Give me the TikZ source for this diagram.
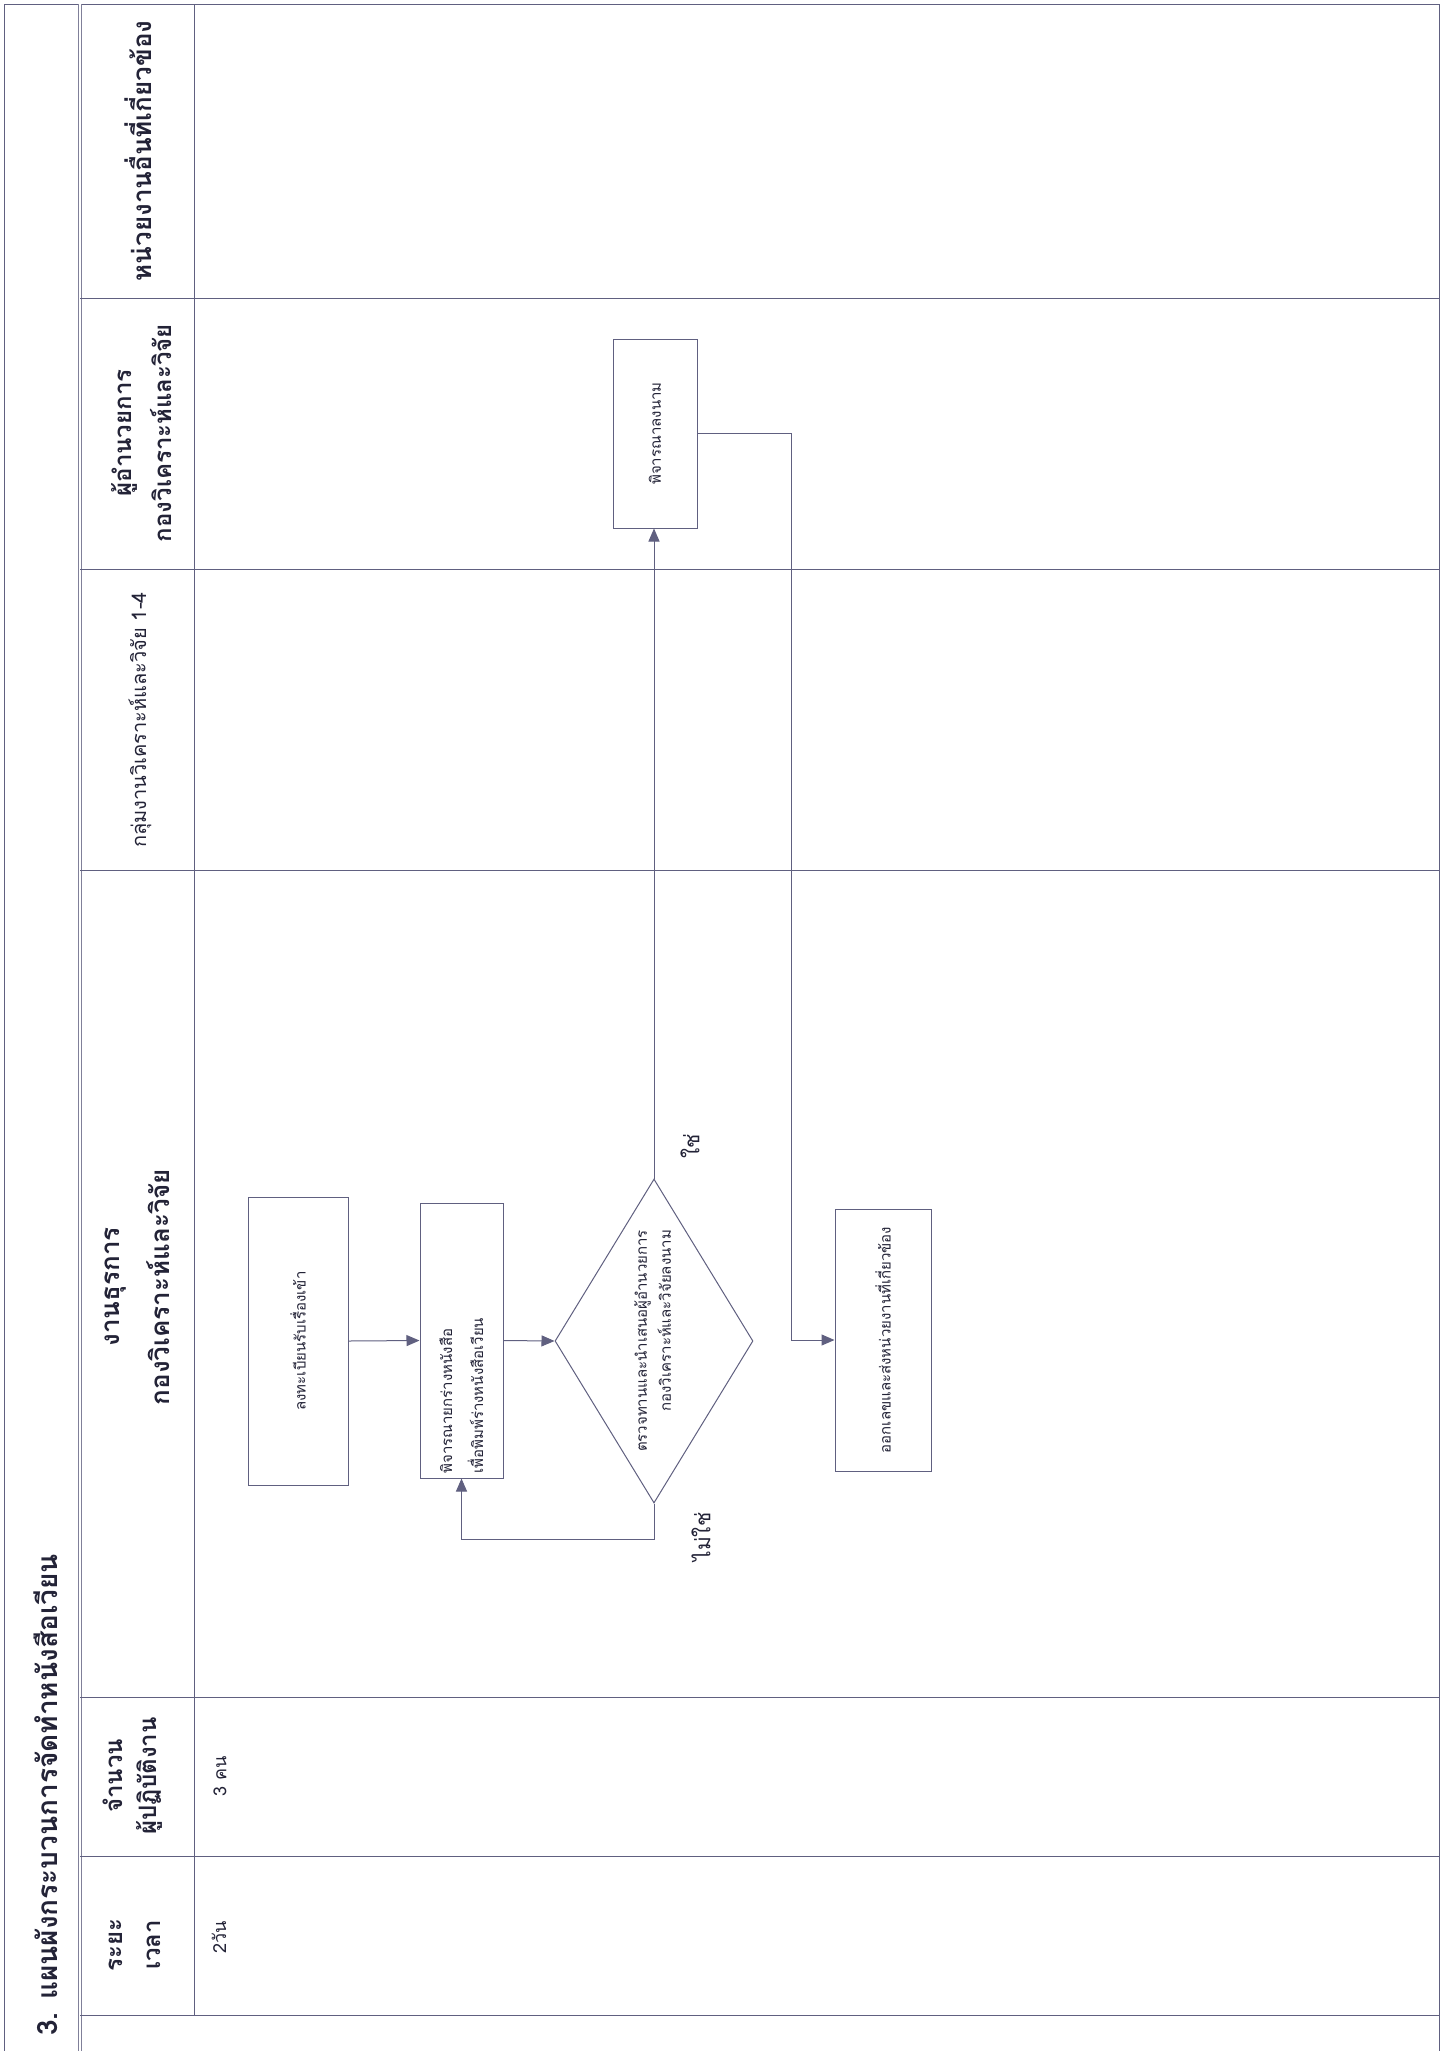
\documentclass[tikz,border=0pt]{standalone}
\usepackage{fontspec}
\usepackage{graphicx}
\setmainfont{Liberation Sans}
\newfontfamily\thai[Script=Thai]{Loma}
\usetikzlibrary{arrows.meta,shapes.geometric}
\definecolor{linec}{RGB}{96,96,128}
\definecolor{txtc}{RGB}{35,35,55}
\begin{document}
\begin{tikzpicture}[x=1pt,y=-1pt,
  ln/.style={draw=linec,line width=1pt},
  arr/.style={draw=linec,line width=1pt,-{Triangle[length=13pt,width=11pt]}},
  box/.style={draw=linec,line width=1pt,rectangle,inner sep=0pt,text=txtc,font=\thai\fontsize{15}{31}\selectfont},
  dia/.style={draw=linec,line width=1pt,diamond,aspect=0.6,inner sep=0pt,text=txtc,font=\thai\fontsize{15}{24}\selectfont},
  head/.style={rotate=90,text=txtc,align=center,inner sep=0pt},
  lbl/.style={rotate=90,text=txtc,inner sep=0pt,font=\thai\fontsize{21}{26}\selectfont}
]
\useasboundingbox[fill=white] (0,0) rectangle (1446,2051);
% frame and grid
\draw[ln] (4,2051) -- (4,4) -- (1439,4) -- (1439,2051);
\draw[draw=linec!80,line width=1pt,double,double distance=2pt] (80,4) -- (80,2051);
\draw[ln] (194,4) -- (194,2015);
\foreach \yy in {298,569,870,1697,1856,2015}{\draw[ln] (80,\yy) -- (1439,\yy);}
% title
\node[head,font=\thai\bfseries\fontsize{28}{34}\selectfont] (title) at (46,1795) {3. แผนผังกระบวนการจัดทำหนังสือเวียน};
% lane headers
\node[head,font=\thai\bfseries\fontsize{26}{40}\selectfont] (h1) at (138,151) {หน่วยงานอื่นที่เกี่ยวข้อง};
\node[head,font=\thai\bfseries\fontsize{24}{40}\selectfont] (h2) at (142,433) {ผู้อำนวยการ\\กองวิเคราะห์และวิจัย};
\node[head,font=\thai\fontsize{20}{26}\selectfont] (h3) at (140,720) {กลุ่มงานวิเคราะห์และวิจัย 1-4};
\node[head,font=\thai\bfseries\fontsize{26}{50}\selectfont] (h4) at (137,1287) {งานธุรการ\\กองวิเคราะห์และวิจัย};
\node[head,font=\thai\bfseries\fontsize{24}{34}\selectfont] (h5) at (133,1776) {จำนวน\\ผู้ปฏิบัติงาน};
\node[head,font=\thai\bfseries\fontsize{24}{38}\selectfont] (h6) at (135,1945) {ระยะ\\เวลา};
\node[head,font=\thai\fontsize{18}{22}\selectfont] (n1) at (220,1776) {3 คน};
\node[head,font=\thai\fontsize{18}{22}\selectfont] (n2) at (219,1937) {2วัน};
% process
\node[box,minimum width=100pt,minimum height=288pt] (A) at (298,1341) {\rotatebox{90}{ลงทะเบียนรับเรื่องเข้า}};
\node[box,minimum width=83pt,minimum height=275pt] (B) at (461.5,1340.5) {\rotatebox{90}{\makebox[266pt][l]{\begin{tabular}{@{}l@{}}พิจารณายกร่างหนังสือ\\เพื่อพิมพ์ร่างหนังสือเวียน\end{tabular}}}};
\node[dia,minimum width=198pt,minimum height=324pt] (Q) at (654,1341) {\rotatebox{90}{\begin{tabular}{@{}r@{}}ตรวจทานและนำเสนอผู้อำนวยการ\\กองวิเคราะห์และวิจัยลงนาม\end{tabular}}};
\node[box,minimum width=84pt,minimum height=189pt] (C) at (655,433.5) {\rotatebox{90}{พิจารณาลงนาม}};
\node[box,minimum width=96pt,minimum height=262pt] (D) at (883,1340) {\rotatebox{90}{ออกเลขและส่งหน่วยงานที่เกี่ยวข้อง}};
% connectors
\draw[arr] (A.east) -- (B.west);
\draw[arr] (B.east) -- (Q.west);
\draw[arr] (Q.north) -- (Q.north |- C.south);
\draw[arr] (C.east) -- ++(94,0) |- (D.west);
\draw[arr] (Q.south) -- ++(0,36) -| (B.south);
\node[lbl] (yes) at (690,1146) {ใช่};
\node[lbl] (no) at (701,1537) {ไม่ใช่};
\end{tikzpicture}
\end{document}
